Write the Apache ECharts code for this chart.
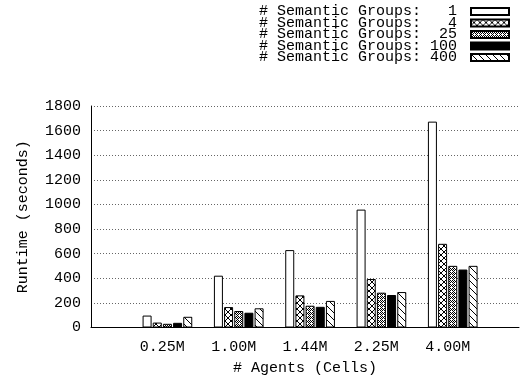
<!DOCTYPE html>
<html>
<head>
<meta charset="utf-8">
<script src="https://cdn.jsdelivr.net/npm/echarts@6/dist/echarts.min.js"></script>
<style>
html,body{margin:0;padding:0;background:#fff;}
#chart{width:520px;height:375px;}
</style>
</head>
<body>
<div id="chart"></div>
<script>
// ---- data ----
const categories = ['0.25M', '1.00M', '1.44M', '2.25M', '4.00M'];
const groups1   = [97, 421, 629, 958, 1673];
const groups4   = [40, 166, 261, 394, 680];
const groups25  = [30, 134, 177, 283, 501];
const groups100 = [38, 120, 168, 264, 471];
const groups400 = [87, 156, 216, 288, 501];
const seriesNames = [
  '# Semantic Groups:   1',
  '# Semantic Groups:   4',
  '# Semantic Groups:  25',
  '# Semantic Groups: 100',
  '# Semantic Groups: 400'
];
const yMin = 0, yMax = 1800, yStep = 200;
const xTitle = '# Agents (Cells)';
const yTitle = 'Runtime (seconds)';

// ---- patterns ----
function makePattern(kind) {
  const c = document.createElement('canvas');
  const ctx = c.getContext('2d');
  if (kind === 'cross') {
    c.width = 6; c.height = 6;
    ctx.fillStyle = '#fff'; ctx.fillRect(0, 0, 6, 6);
    ctx.strokeStyle = '#000'; ctx.lineWidth = 1;
    ctx.beginPath();
    ctx.moveTo(0, 0); ctx.lineTo(6, 6);
    ctx.moveTo(6, 0); ctx.lineTo(0, 6);
    ctx.stroke();
  } else if (kind === 'dense') {
    c.width = 4; c.height = 4;
    ctx.fillStyle = '#fff'; ctx.fillRect(0, 0, 4, 4);
    ctx.fillStyle = '#000';
    ctx.fillRect(0, 0, 1, 1); ctx.fillRect(2, 0, 1, 1);
    ctx.fillRect(1, 1, 1, 1); ctx.fillRect(3, 1, 1, 1);
    ctx.fillRect(0, 2, 1, 1); ctx.fillRect(2, 2, 1, 1);
    ctx.fillRect(1, 3, 1, 1);
  } else if (kind === 'diag') {
    c.width = 7; c.height = 7;
    ctx.fillStyle = '#fff'; ctx.fillRect(0, 0, 7, 7);
    ctx.strokeStyle = '#000'; ctx.lineWidth = 1;
    ctx.beginPath();
    ctx.moveTo(-1, -1); ctx.lineTo(8, 8);
    ctx.stroke();
  }
  return { image: c, repeat: 'repeat' };
}

const padCats = [''].concat(categories, ['']);
function pad(arr) { return [null].concat(arr, [null]); }

const fills = ['#ffffff', makePattern('cross'), makePattern('dense'), '#000000', makePattern('diag')];
const values = [groups1, groups4, groups25, groups100, groups400];

const FONT = 'Liberation Mono';
const series = [{
  name: 'spacer', type: 'bar', barWidth: 9, barGap: '13%',
  data: pad(categories.map(() => null)), silent: true
}];
values.forEach((v, i) => {
  series.push({
    name: seriesNames[i], type: 'bar', barWidth: 9, barGap: '13%',
    data: pad(v),
    itemStyle: { color: fills[i], borderColor: '#000', borderWidth: 1 }
  });
});

const chart = echarts.init(document.getElementById('chart'), null, { renderer: 'canvas' });
chart.setOption({
  animation: false,
  backgroundColor: '#fff',
  textStyle: { fontFamily: FONT },
  legend: {
    data: seriesNames,
    orient: 'vertical',
    right: 10, top: 4,
    padding: 0,
    align: 'right',
    itemWidth: 38, itemHeight: 7, itemGap: -3.5,
    icon: 'rect',
    selectedMode: false,
    formatter: function (n) { return n + ' '; },
    textStyle: { fontFamily: FONT, fontSize: 15, color: '#000', lineHeight: 11.5 }
  },
  grid: { left: 91, right: 1, top: 106, bottom: 47.5, containLabel: false, outerBoundsMode: 'none' },
  xAxis: {
    type: 'category', data: padCats, boundaryGap: false,
    name: xTitle, nameLocation: 'middle', nameGap: 33,
    nameTextStyle: { fontFamily: FONT, fontSize: 15, color: '#000' },
    axisLine: { lineStyle: { color: '#000', width: 1 } },
    axisTick: { show: false },
    axisLabel: { fontFamily: FONT, fontSize: 15, color: '#000', margin: 12, interval: 0 },
    splitLine: { show: false }
  },
  yAxis: {
    type: 'value', min: yMin, max: yMax, interval: yStep,
    name: yTitle, nameLocation: 'middle', nameGap: 60,
    nameTextStyle: { fontFamily: FONT, fontSize: 15, color: '#000' },
    axisLine: { show: true, lineStyle: { color: '#000', width: 1 } },
    axisTick: { show: false },
    axisLabel: { fontFamily: FONT, fontSize: 15, color: '#000', margin: 10,
      formatter: function (v) { return String(v); } },
    splitLine: { show: true, lineStyle: { color: '#666', type: [1, 2], width: 1 } }
  },
  series: series
});
</script>
</body>
</html>
